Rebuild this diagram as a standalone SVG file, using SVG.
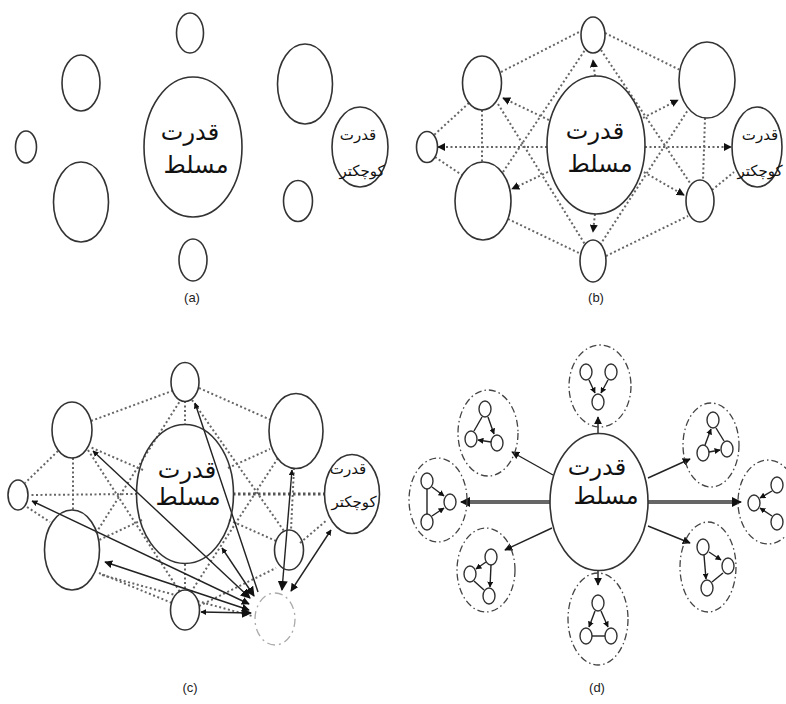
<svg xmlns="http://www.w3.org/2000/svg" width="786" height="704" viewBox="0 0 786 704">
<defs>
<marker id="ah" viewBox="0 0 10 10" refX="9" refY="5" markerWidth="8" markerHeight="8" markerUnits="userSpaceOnUse" orient="auto-start-reverse"><path d="M0,0 L10,5 L0,10 z" fill="#111"/></marker>
<marker id="ahs" viewBox="0 0 10 10" refX="9" refY="5" markerWidth="6" markerHeight="6" markerUnits="userSpaceOnUse" orient="auto-start-reverse"><path d="M0,0 L10,5 L0,10 z" fill="#111"/></marker>
<marker id="ahb" viewBox="0 0 10 10" refX="9" refY="5" markerWidth="10" markerHeight="10" markerUnits="userSpaceOnUse" orient="auto-start-reverse"><path d="M0,0 L10,5 L0,10 z" fill="#111"/></marker>
</defs>
<style>
.n{fill:#fff;stroke:#333;stroke-width:1.6}
.s{fill:#fff;stroke:#333;stroke-width:1.4}
.dot{fill:none;stroke:#666;stroke-width:2;stroke-dasharray:2 2.5}
.dotb{fill:none;stroke:#555;stroke-width:3;stroke-dasharray:2.5 2.5}
.sol{fill:none;stroke:#222;stroke-width:1.4}
.thick{fill:none;stroke:#666;stroke-width:4}
.dd{fill:none;stroke:#444;stroke-width:1.3;stroke-dasharray:7 3 1.5 3}
.nd{fill:none;stroke:#aaa;stroke-width:1.3;stroke-dasharray:8 4 2 4}
.big{font-family:"DejaVu Sans",sans-serif;font-size:24px;fill:#111;text-anchor:middle}
.sm{font-family:"DejaVu Sans",sans-serif;font-size:15px;fill:#111;text-anchor:middle}
.lab{font-family:"Liberation Sans",Arial,sans-serif;font-size:13px;fill:#222;text-anchor:middle}
</style>

<!-- ===== Panel (a) ===== -->
<g id="a-T"><ellipse class="n" cx="190" cy="33" rx="13.5" ry="20"/></g>
<g id="a-UL"><ellipse class="n" cx="81" cy="83" rx="19" ry="28"/></g>
<g id="a-L"><ellipse class="n" cx="26" cy="147" rx="10.5" ry="16"/></g>
<g id="a-LL"><ellipse class="n" cx="81" cy="202" rx="27.5" ry="40"/></g>
<g id="a-C"><ellipse class="n" cx="193" cy="147" rx="49" ry="70"/><text class="big" x="190" y="140">قدرت</text><text class="big" x="196" y="173">مسلط</text></g>
<g id="a-UR"><ellipse class="n" cx="305" cy="84" rx="27.5" ry="40"/></g>
<g id="a-K"><ellipse class="n" cx="360" cy="147" rx="28" ry="40"/><text class="sm" x="358" y="140">قدرت</text><text class="sm" x="362" y="176">کوچکتر</text></g>
<g id="a-LR"><ellipse class="n" cx="298" cy="201" rx="14.5" ry="20.5"/></g>
<g id="a-B"><ellipse class="n" cx="193" cy="260" rx="14" ry="21"/></g>
<text class="lab" x="192" y="302">(a)</text>

<!-- ===== Panel (b) ===== -->
<g id="b-connectors">
<path class="dot" d="M501,72 L581,31"/>
<path class="dot" d="M605,33 L680,70"/>
<path class="dot" d="M469,103 L434,135"/>
<path class="dot" d="M435,157 L462,175"/>
<path class="dot" d="M482,110 L482,162"/>
<path class="dot" d="M508,219 L581,254"/>
<path class="dot" d="M606,256 L688,216"/>
<path class="dot" d="M705,118 L703,180"/>
<path class="dot" d="M712,190 L734,172"/>
<path class="dot" d="M498,104 L586,246"/>
<path class="dot" d="M503,172 L585,50"/>
<path class="dot" d="M601,50 L690,183"/>
<path class="dot" d="M600,245 L688,110"/>
<path class="dot" d="M547,147 L438,147" marker-end="url(#ah)"/>
<path class="dot" d="M645,147 L731,147" marker-end="url(#ah)"/>
<path class="dot" d="M595,76 L593,60" marker-end="url(#ah)"/>
<path class="dot" d="M595,214 L593,232" marker-end="url(#ah)"/>
<path class="dot" d="M553,122 L503,98" marker-end="url(#ah)"/>
<path class="dot" d="M552,170 L512,189" marker-end="url(#ah)"/>
<path class="dot" d="M639,120 L678,100" marker-end="url(#ah)"/>
<path class="dot" d="M640,170 L684,195" marker-end="url(#ah)"/>
</g>
<g id="b-T"><ellipse class="n" cx="593" cy="35" rx="12" ry="18"/></g>
<g id="b-UL"><ellipse class="n" cx="482" cy="83" rx="19.5" ry="27"/></g>
<g id="b-L"><ellipse class="n" cx="427" cy="147" rx="10.5" ry="15.5"/></g>
<g id="b-LL"><ellipse class="n" cx="483" cy="201" rx="28" ry="39"/></g>
<g id="b-C"><ellipse class="n" cx="596" cy="145" rx="49" ry="69"/><text class="big" x="595" y="139">قدرت</text><text class="big" x="600" y="172">مسلط</text></g>
<g id="b-UR"><ellipse class="n" cx="707" cy="80" rx="28" ry="38"/></g>
<g id="b-K"><ellipse class="n" cx="757" cy="147" rx="25" ry="40"/><text class="sm" x="760" y="140">قدرت</text><text class="sm" x="760" y="176">کوچکتر</text></g>
<g id="b-LR"><ellipse class="n" cx="700" cy="201" rx="14" ry="21"/></g>
<g id="b-B"><ellipse class="n" cx="593" cy="261" rx="13" ry="21"/></g>
<text class="lab" x="596" y="302">(b)</text>

<!-- ===== Panel (c) ===== -->
<g id="c-connectors">
<path class="dot" d="M91,421 L172,391"/>
<path class="dot" d="M199,388 L271,420"/>
<path class="dot" d="M58,451 L25,483"/>
<path class="dot" d="M27,507 L50,522"/>
<path class="dot" d="M73,458 L73,510"/>
<path class="dot" d="M99,573 L172,603"/>
<path class="dot" d="M199,606 L276,568"/>
<path class="dot" d="M294,468 L291,530"/>
<path class="dot" d="M300,543 L327,520"/>
<path class="dot" d="M88,450 L180,592"/>
<path class="dot" d="M96,533 L180,401"/>
<path class="dot" d="M192,400 L284,531"/>
<path class="dot" d="M191,592 L278,458"/>
<path class="dot" d="M185,401 L185,425"/>
<path class="dot" d="M185,564 L185,590"/>
<path class="dot" d="M137,494 L29,495"/>
<path class="dotb" d="M233,494 L325,494"/>
<path class="dot" d="M143,470 L90,447"/>
<path class="dot" d="M142,520 L99,540"/>
<path class="dot" d="M228,468 L270,449"/>
<path class="dot" d="M229,520 L276,541"/>
<path class="dot" d="M102,575 L252,616"/>
<path class="sol" d="M250,598 L93,451" marker-start="url(#ahb)" marker-end="url(#ahs)"/>
<path class="sol" d="M249,604 L32,501" marker-start="url(#ah)" marker-end="url(#ahs)"/>
<path class="sol" d="M249,610 L105,562" marker-start="url(#ah)" marker-end="url(#ah)"/>
<path class="sol" d="M251,613 L201,612" marker-start="url(#ahb)" marker-end="url(#ahs)"/>
<path class="sol" d="M254,596 L222,548" marker-start="url(#ahb)" marker-end="url(#ahs)"/>
<path class="sol" d="M258,592 L195,403" marker-end="url(#ahs)"/>
<path class="sol" d="M282,590 L292,470" marker-start="url(#ahb)" marker-end="url(#ahs)"/>
<path class="sol" d="M291,591 L331,530" marker-start="url(#ah)" marker-end="url(#ahs)"/>
</g>
<g id="c-T"><ellipse class="n" cx="185" cy="382" rx="14" ry="19.5"/></g>
<g id="c-UL"><ellipse class="n" cx="72" cy="430" rx="20" ry="28"/></g>
<g id="c-L"><ellipse class="n" cx="18" cy="495" rx="10" ry="15"/></g>
<g id="c-LL"><ellipse class="n" cx="72" cy="550" rx="27.5" ry="40" fill-opacity="0"/></g>
<g id="c-C"><ellipse class="n" cx="185" cy="494" rx="48.5" ry="69.5" fill-opacity="0"/><text class="big" x="187" y="478">قدرت</text><text class="big" x="188" y="505">مسلط</text></g>
<g id="c-UR"><ellipse class="n" cx="296" cy="431" rx="27" ry="37.5"/></g>
<g id="c-K"><ellipse class="n" cx="352" cy="494" rx="27.5" ry="39.5"/><text class="sm" x="348" y="474">قدرت</text><text class="sm" x="354" y="507">کوچکتر</text></g>
<g id="c-LR"><ellipse class="n" cx="289" cy="550" rx="14.5" ry="20" fill-opacity="0"/></g>
<g id="c-B"><ellipse class="n" cx="185" cy="610" rx="14.5" ry="20"/></g>
<g id="c-N"><ellipse class="nd" cx="275" cy="619" rx="20" ry="26"/></g>
<text class="lab" x="190" y="692">(c)</text>

<!-- ===== Panel (d) ===== -->
<g id="d-connectors">
<path class="sol" d="M598,433 L598,417" marker-end="url(#ah)"/>
<path class="sol" d="M553,475 L512,452" marker-end="url(#ah)"/>
<path class="thick" d="M550,502 L465,502"/>
<path class="sol" d="M470,502 L461,502" marker-end="url(#ahb)"/>
<path class="sol" d="M552,528 L505,550" marker-end="url(#ah)"/>
<path class="sol" d="M598,570 L598,585" marker-end="url(#ah)"/>
<path class="sol" d="M648,478 L690,459" marker-end="url(#ah)"/>
<path class="thick" d="M648,502 L736,502"/>
<path class="sol" d="M732,502 L741,502" marker-end="url(#ahb)"/>
<path class="sol" d="M648,526 L690,543" marker-end="url(#ah)"/>
</g>
<g id="d-C"><ellipse class="n" cx="599" cy="502" rx="49" ry="68.5"/><text class="big" x="597" y="475">قدرت</text><text class="big" x="606" y="504">مسلط</text></g>
<g id="d-top">
<ellipse class="dd" cx="600" cy="386" rx="31" ry="41"/>
<ellipse class="s" cx="586" cy="372" rx="6" ry="8"/><ellipse class="s" cx="611" cy="372" rx="6" ry="8"/><ellipse class="s" cx="598" cy="402" rx="6" ry="8"/>
<path class="sol" d="M589,380 L595,393" marker-end="url(#ahs)"/><path class="sol" d="M608,380 L601,393" marker-end="url(#ahs)"/>
</g>
<g id="d-ul">
<ellipse class="dd" cx="488" cy="433" rx="30" ry="43"/>
<ellipse class="s" cx="485" cy="409" rx="6" ry="8"/><ellipse class="s" cx="471" cy="439" rx="6" ry="8"/><ellipse class="s" cx="497" cy="443" rx="6" ry="8"/>
<path class="sol" d="M482,417 L474,431"/><path class="sol" d="M488,417 L494,434" marker-end="url(#ahs)"/><path class="sol" d="M491,442 L478,440" marker-end="url(#ahs)"/>
</g>
<g id="d-l">
<ellipse class="dd" cx="438" cy="500" rx="29" ry="42"/>
<ellipse class="s" cx="427" cy="481" rx="6" ry="8"/><ellipse class="s" cx="427" cy="522" rx="6" ry="8"/><ellipse class="s" cx="450" cy="502" rx="6" ry="8"/>
<path class="sol" d="M427,489 L427,514"/><path class="sol" d="M432,487 L444,496" marker-end="url(#ahs)"/><path class="sol" d="M432,516 L444,508" marker-end="url(#ahs)"/>
</g>
<g id="d-ll">
<ellipse class="dd" cx="486" cy="570" rx="29" ry="42"/>
<ellipse class="s" cx="491" cy="557" rx="6" ry="8"/><ellipse class="s" cx="470" cy="574" rx="6" ry="8"/><ellipse class="s" cx="489" cy="596" rx="6" ry="8"/>
<path class="sol" d="M486,562 L476,569" marker-end="url(#ahs)"/><path class="sol" d="M491,565 L490,587" marker-end="url(#ahs)"/><path class="sol" d="M474,581 L484,590"/>
</g>
<g id="d-bot">
<ellipse class="dd" cx="598" cy="619" rx="30" ry="46"/>
<ellipse class="s" cx="598" cy="603" rx="6" ry="8"/><ellipse class="s" cx="586" cy="636" rx="6" ry="8"/><ellipse class="s" cx="611" cy="636" rx="6" ry="8"/>
<path class="sol" d="M595,611 L589,627" marker-end="url(#ahs)"/><path class="sol" d="M601,611 L608,627" marker-end="url(#ahs)"/><path class="sol" d="M592,636 L605,636"/>
</g>
<g id="d-ur">
<ellipse class="dd" cx="711" cy="445" rx="28" ry="42"/>
<ellipse class="s" cx="713" cy="420" rx="6" ry="8"/><ellipse class="s" cx="703" cy="453" rx="6" ry="8"/><ellipse class="s" cx="727" cy="449" rx="6" ry="8"/>
<path class="sol" d="M705,445 L711,429" marker-end="url(#ahs)"/><path class="sol" d="M709,452 L720,450" marker-end="url(#ahs)"/><path class="sol" d="M716,428 L724,441"/>
</g>
<g id="d-r">
<ellipse class="dd" cx="768" cy="502" rx="30" ry="42"/>
<ellipse class="s" cx="754" cy="503" rx="6" ry="8"/><ellipse class="s" cx="777" cy="485" rx="6" ry="8"/><ellipse class="s" cx="777" cy="522" rx="6" ry="8"/>
<path class="sol" d="M772,491 L760,498" marker-end="url(#ahs)"/><path class="sol" d="M772,516 L760,508" marker-end="url(#ahs)"/>
</g>
<g id="d-lr">
<ellipse class="dd" cx="708" cy="567" rx="28" ry="45"/>
<ellipse class="s" cx="703" cy="547" rx="6" ry="8"/><ellipse class="s" cx="728" cy="566" rx="6" ry="8"/><ellipse class="s" cx="707" cy="588" rx="6" ry="8"/>
<path class="sol" d="M709,552 L721,560" marker-end="url(#ahs)"/><path class="sol" d="M704,555 L706,579" marker-end="url(#ahs)"/><path class="sol" d="M723,573 L712,582"/>
</g>
<text class="lab" x="597" y="692">(d)</text>
</svg>
